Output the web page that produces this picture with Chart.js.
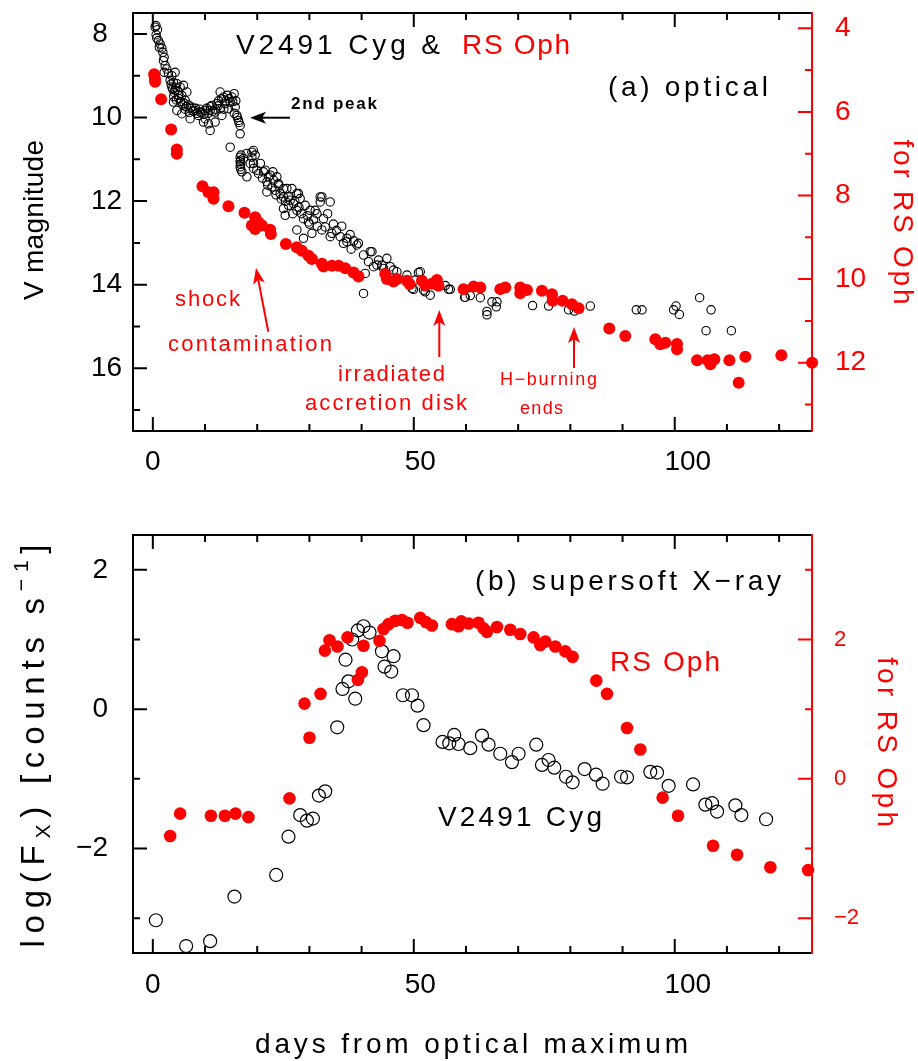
<!DOCTYPE html>
<html>
<head>
<meta charset="utf-8">
<title>V2491 Cyg & RS Oph</title>
<script src="https://cdn.jsdelivr.net/npm/chart.js@4.4.1/dist/chart.umd.min.js"></script>
<style>
    html, body { margin: 0; padding: 0; background: #fff; }
    #page { position: relative; width: 918px; height: 1061px; }
    #page canvas { position: absolute; left: 0; }
</style>
</head>
<body>
<div id="page">
    <canvas id="opticalChart" width="918" height="490" style="top:0"></canvas>
    <canvas id="xrayChart" width="918" height="571" style="top:490px"></canvas>
</div>
<script>
// axis ticks
const dayLabels = [0, 50, 100];
const dayTicks = [0, 10, 20, 30, 40, 50, 60, 70, 80, 90, 100, 110, 120];
const vmagLabels = [8, 10, 12, 14, 16];
const vmagTicks = [8, 9, 10, 11, 12, 13, 14, 15, 16, 17];
const rsMagLabels = [4, 6, 8, 10, 12];
const rsMagTicks = [4, 5, 6, 7, 8, 9, 10, 11, 12, 13];
const fxLabels = [-2, 0, 2];
const fxTicks = [-3, -2, -1, 0, 1, 2];
const rsFxLabels = [-2, 0, 2];
const rsFxTicks = [-2, -1, 0, 1, 2, 3];

// (a) optical, V2491 Cyg: [days, V mag]
const cygOptical = [
    [0.44, 7.84], [0.60, 7.80], [0.88, 7.90], [0.63, 8.02], [0.75, 8.10], [1.07, 8.16], [1.40, 8.24], [1.25, 8.32],
    [1.73, 8.34], [1.92, 8.44], [2.17, 8.56], [2.03, 8.64], [2.36, 8.76], [2.68, 8.84], [2.17, 8.92], [2.99, 8.95],
    [3.64, 9.00], [4.27, 8.92], [3.32, 9.11], [3.95, 9.16], [4.60, 9.19], [3.64, 9.27], [4.27, 9.35], [5.23, 9.27],
    [5.87, 9.23], [4.91, 9.47], [5.56, 9.47], [3.95, 9.63], [6.19, 9.59], [6.52, 9.39], [4.60, 9.83], [5.56, 9.91],
    [7.15, 10.03], [7.15, 9.79], [3.50, 9.20], [3.80, 9.32], [4.10, 9.40], [4.40, 9.28], [4.80, 9.36], [5.00, 9.55],
    [5.30, 9.62], [5.70, 9.70], [6.00, 9.66], [6.40, 9.74], [6.80, 9.70], [7.40, 9.75], [7.80, 9.85], [8.20, 9.78],
    [8.50, 9.90], [9.00, 9.80], [9.40, 9.88], [9.80, 9.92], [10.30, 9.78], [10.60, 9.90], [11.00, 9.74], [11.50, 9.85],
    [12.00, 9.80], [12.50, 9.72], [4.00, 9.50], [4.50, 9.58], [6.20, 9.80], [7.00, 9.88],
    [8.11, 9.83], [9.07, 9.87], [10.02, 9.83], [10.98, 9.83], [11.94, 9.87], [11.31, 9.71], [12.27, 9.67], [12.90, 9.79],
    [8.74, 9.95], [10.02, 10.03], [9.70, 10.11], [10.66, 10.15], [10.98, 10.31], [11.94, 10.11],
    [12.90, 9.39], [13.53, 9.51], [14.30, 9.47], [15.14, 9.51], [15.58, 9.43], [14.82, 9.63], [13.86, 9.67], [13.23, 9.95],
    [14.49, 9.79], [15.78, 9.75], [16.10, 9.95], [16.41, 10.07], [15.60, 9.90], [16.73, 10.19], [16.73, 10.39],
    [13.20, 9.55], [14.00, 9.60], [14.60, 9.55], [15.30, 9.62], [15.90, 9.60], [13.60, 9.80], [12.60, 9.60],
    [16.20, 10.00], [16.50, 10.12],
    [14.82, 10.71], [16.73, 10.95], [16.73, 11.06], [16.73, 11.18], [17.06, 11.30], [16.80, 11.02], [16.80, 11.12],
    [16.85, 11.24], [16.90, 10.90], [17.37, 10.98], [18.02, 10.86], [18.98, 10.83], [19.61, 10.90], [18.65, 11.10],
    [19.28, 11.22], [18.02, 11.42], [20.24, 11.34], [21.53, 11.26], [22.16, 11.42], [21.85, 11.54], [23.12, 11.50],
    [24.07, 11.62], [25.03, 11.70], [26.64, 11.70], [27.60, 11.82], [25.99, 11.90], [28.23, 11.94],
    [19.28, 10.79], [18.98, 10.95], [19.28, 11.10], [19.93, 11.26], [21.20, 11.30], [22.48, 11.38], [23.77, 11.42],
    [21.85, 11.78], [22.81, 11.66], [23.44, 11.74], [24.07, 11.58], [24.40, 11.82], [25.03, 11.90], [25.69, 11.70],
    [26.32, 11.98], [25.03, 12.18], [25.36, 12.34], [26.95, 12.06], [27.91, 11.82], [27.60, 12.22], [28.87, 12.42],
    [30.15, 12.22], [31.11, 12.22], [32.07, 11.90], [32.07, 12.02], [33.98, 12.02], [32.70, 12.42], [29.83, 12.50],
    [27.60, 12.69], [28.87, 12.89], [30.48, 12.77], [32.39, 12.69], [33.03, 12.62], [33.98, 12.85], [34.31, 12.77],
    [35.90, 12.85], [37.19, 12.89], [36.53, 13.01], [39.10, 13.05], [40.37, 13.29], [41.98, 13.21], [41.33, 13.45],
    [42.29, 13.57], [43.24, 13.41], [43.90, 13.53], [44.85, 13.37], [44.20, 13.61], [46.12, 13.65], [40.69, 13.73],
    [40.37, 14.21], [50.91, 13.71], [48.99, 13.93], [49.95, 14.11], [51.87, 14.13], [53.15, 14.25], [56.66, 14.11],
    [20.60, 11.10], [21.00, 11.45], [22.00, 11.62], [23.00, 11.30], [23.60, 11.85], [24.60, 11.95], [25.40, 12.00],
    [26.00, 12.10], [26.80, 12.30], [27.20, 12.00], [28.00, 12.15], [28.50, 12.30], [29.20, 12.10], [29.60, 12.35],
    [30.00, 12.55], [30.80, 12.45], [31.50, 12.60], [33.50, 12.30], [34.60, 12.55], [35.20, 12.70], [36.20, 12.60],
    [37.80, 12.80], [38.50, 12.95], [38.00, 13.15],
    [31.44, 12.30], [32.39, 11.90], [37.19, 12.97], [39.41, 13.01], [41.65, 13.21], [42.94, 13.53], [45.49, 13.57],
    [46.77, 13.69], [48.69, 13.77], [50.28, 13.89], [51.24, 13.69], [49.65, 14.09], [52.20, 14.05], [59.73, 14.30],
    [52.19, 14.17], [56.03, 14.02], [56.99, 14.11], [59.86, 14.30], [60.82, 14.26], [62.74, 14.31], [64.02, 14.64],
    [64.02, 14.72], [64.98, 14.41], [65.94, 14.41], [65.80, 14.53], [72.76, 14.50], [75.83, 14.51], [79.66, 14.60],
    [80.76, 14.63], [83.82, 14.51], [92.64, 14.60], [93.73, 14.60], [99.79, 14.60], [100.25, 14.51], [100.88, 14.71],
    [104.77, 14.31], [106.96, 14.60], [106.00, 15.10], [110.85, 15.10]
];

// (a) optical, RS Oph: [days, V mag] on the right axis
const rsOptical = [
    [0.25, 5.10], [0.40, 5.20], [0.44, 5.28], [1.59, 5.70], [3.51, 6.42], [4.60, 6.90], [4.60, 7.00], [9.51, 7.78],
    [10.66, 7.92], [11.62, 7.92], [11.62, 8.08], [14.49, 8.26], [17.56, 8.41], [19.61, 8.52], [18.98, 8.72],
    [20.24, 8.64], [19.61, 8.80], [20.89, 8.72], [22.48, 8.82], [22.62, 8.92], [25.49, 9.16], [27.60, 9.24],
    [28.56, 9.32], [29.83, 9.44], [30.48, 9.52], [32.39, 9.63], [32.70, 9.70], [34.31, 9.68], [35.58, 9.68],
    [36.86, 9.74], [38.45, 9.84], [39.41, 9.94], [44.53, 9.88], [44.85, 10.00], [46.12, 10.06], [46.77, 10.00],
    [48.69, 10.04], [49.19, 10.12], [51.56, 10.04], [52.20, 10.14], [53.48, 10.11], [54.44, 10.02], [54.74, 10.16],
    [59.54, 10.24], [61.45, 10.18], [62.74, 10.20], [66.57, 10.24], [67.53, 10.20], [70.40, 10.20], [70.40, 10.34],
    [71.69, 10.26], [74.56, 10.28], [76.48, 10.36], [76.60, 10.52], [78.51, 10.52], [80.31, 10.60], [81.58, 10.70],
    [87.46, 11.18], [90.53, 11.36], [96.28, 11.44], [97.24, 11.56], [98.20, 11.52], [100.44, 11.55], [100.44, 11.68],
    [104.27, 11.94], [106.31, 11.94], [106.83, 12.04], [107.59, 11.92], [110.47, 11.94], [112.25, 12.48],
    [113.53, 11.86], [120.43, 11.82], [126.32, 12.00]
];

// (b) supersoft X-ray, V2491 Cyg: [days, log Fx]
const cygXray = [
    [0.58, -3.03], [6.38, -3.40], [10.98, -3.33], [15.64, -2.69], [23.63, -2.38], [25.99, -1.83], [28.23, -1.52],
    [29.52, -1.60], [30.67, -1.57], [31.82, -1.24], [33.03, -1.18], [35.33, -0.26], [36.34, 0.29], [37.49, 0.40],
    [38.78, 0.15], [36.92, 0.71], [38.20, 1.00], [39.29, 1.13], [40.37, 1.19], [41.52, 1.10], [43.90, 0.83],
    [46.12, 0.76], [44.39, 0.61], [45.68, 0.54], [47.92, 0.20], [49.65, 0.20], [50.72, 0.05], [51.87, -0.23],
    [55.51, -0.47], [56.80, -0.49], [57.75, -0.37], [58.58, -0.50], [60.82, -0.56], [63.06, -0.38], [64.33, -0.51],
    [66.57, -0.64], [68.81, -0.76], [70.08, -0.64], [73.47, -0.51], [74.56, -0.80], [75.83, -0.73], [76.92, -0.84],
    [79.16, -0.97], [80.43, -1.05], [82.73, -0.86], [84.91, -0.94], [86.18, -1.07], [89.71, -0.97], [90.86, -0.98],
    [95.32, -0.90], [96.61, -0.91], [98.83, -1.10], [103.51, -1.08], [105.87, -1.37], [107.15, -1.35], [108.11, -1.47],
    [111.62, -1.38], [112.77, -1.52], [117.50, -1.58]
];

// (b) supersoft X-ray, RS Oph: [days, log Fx] on the right axis
const rsXray = [
    [3.32, -0.82], [5.23, -0.50], [11.12, -0.53], [13.80, -0.53], [15.83, -0.50], [18.32, -0.55], [26.18, -0.28],
    [29.06, 1.08], [30.02, 0.59], [32.13, 1.22], [32.97, 1.84], [33.85, 1.99], [35.38, 1.90], [37.30, 2.03],
    [39.29, 1.42], [40.06, 1.53], [40.37, 1.91], [43.43, 1.98], [44.20, 2.15], [45.16, 2.22], [46.44, 2.27],
    [47.73, 2.28], [48.80, 2.24], [51.24, 2.31], [52.33, 2.25], [53.48, 2.20], [57.31, 2.22], [58.58, 2.19],
    [59.10, 2.26], [60.50, 2.23], [62.41, 2.24], [63.37, 2.16], [64.02, 2.11], [65.94, 2.18], [68.49, 2.14],
    [70.40, 2.08], [72.95, 2.03], [74.24, 1.92], [75.20, 1.97], [77.11, 1.90], [79.03, 1.83], [80.43, 1.75],
    [84.97, 1.41], [87.02, 1.22], [90.86, 0.73], [93.41, 0.42], [97.68, -0.27], [100.63, -0.53], [107.34, -0.96],
    [111.94, -1.09], [118.32, -1.27], [125.55, -1.31]
];

const RED = '#ff0000';
const FONT = '"Liberation Sans", Arial, sans-serif';
const toPoints = rows => rows.map(r => ({ x: r[0], y: r[1] }));
const fmt = v => (v < 0 ? '\u2212' + Math.abs(v) : String(v));

// text drawn stretched to a given width (the original uses wide letter spacing)
function drawText(ctx, t) {
    ctx.save();
    ctx.translate(t.x, t.y);
    if (t.rot) ctx.rotate(t.rot);
    ctx.fillStyle = t.color || '#000';
    ctx.textBaseline = 'middle';
    ctx.textAlign = 'left';
    const parts = t.parts || [{ text: t.text }];
    let natural = 0, count = 0;
    parts.forEach(p => {
        ctx.font = `${t.weight || 'normal'} ${Math.round(t.size * (p.scale || 1))}px ${FONT}`;
        natural += ctx.measureText(p.text).width;
        count += p.text.length;
    });
    const ls = t.width ? (t.width - natural) / Math.max(1, count - 1) : 0;
    let x = t.align === 'center' ? -(t.width || natural) / 2 : 0;
    parts.forEach(p => {
        ctx.font = `${t.weight || 'normal'} ${Math.round(t.size * (p.scale || 1))}px ${FONT}`;
        ctx.letterSpacing = ls + 'px';
        ctx.fillText(p.text, x, (p.dy || 0));
        x += ctx.measureText(p.text).width;
    });
    ctx.restore();
}

function drawArrow(ctx, a) {
    const ang = Math.atan2(a.y2 - a.y1, a.x2 - a.x1);
    ctx.save();
    ctx.strokeStyle = a.color;
    ctx.fillStyle = a.color;
    ctx.lineWidth = 2;
    ctx.beginPath();
    ctx.moveTo(a.x1, a.y1);
    ctx.lineTo(a.x2 - 10 * Math.cos(ang), a.y2 - 10 * Math.sin(ang));
    ctx.stroke();
    ctx.translate(a.x2, a.y2);
    ctx.rotate(ang);
    ctx.beginPath();
    ctx.moveTo(0, 0);
    ctx.lineTo(-16, -6);
    ctx.lineTo(-12, 0);
    ctx.lineTo(-16, 6);
    ctx.closePath();
    ctx.fill();
    ctx.restore();
}

// frame, inward ticks, tick labels and annotations of one panel
function panelPlugin(cfg) {
    return {
        id: 'panel',
        beforeDatasetsDraw(chart) {
            const { ctx, chartArea: a, scales } = chart;
            ctx.save();
            ctx.lineWidth = 2;
            ctx.strokeStyle = '#000';
            ctx.beginPath();
            ctx.moveTo(a.right, a.top);
            ctx.lineTo(a.left, a.top);
            ctx.lineTo(a.left, a.bottom);
            ctx.lineTo(a.right, a.bottom);
            dayTicks.forEach(v => {
                const px = scales.x.getPixelForValue(v);
                const len = dayLabels.includes(v) ? 14 : 7;
                ctx.moveTo(px, a.top); ctx.lineTo(px, a.top + len);
                ctx.moveTo(px, a.bottom); ctx.lineTo(px, a.bottom - len);
            });
            cfg.leftTicks.forEach(v => {
                const py = scales.y.getPixelForValue(v);
                const len = cfg.leftLabels.includes(v) ? 14 : 7;
                ctx.moveTo(a.left, py); ctx.lineTo(a.left + len, py);
            });
            ctx.stroke();
            ctx.strokeStyle = RED;
            ctx.beginPath();
            ctx.moveTo(a.right, a.top - 1);
            ctx.lineTo(a.right, a.bottom + 1);
            cfg.rightTicks.forEach(v => {
                const py = scales.y2.getPixelForValue(v);
                const len = cfg.rightLabels.includes(v) ? 14 : 7;
                ctx.moveTo(a.right, py); ctx.lineTo(a.right - len, py);
            });
            ctx.stroke();

            ctx.textBaseline = 'middle';
            ctx.font = `28px ${FONT}`;
            ctx.fillStyle = '#000';
            ctx.textAlign = 'center';
            dayLabels.forEach(v => {
                const s = fmt(v);
                ctx.fillText(s, scales.x.getPixelForValue(v) + (s.length - 1) * 6.5, cfg.dayLabelY);
            });
            cfg.leftLabels.forEach(v => {
                const s = fmt(v);
                const py = scales.y.getPixelForValue(v);
                if (cfg.leftAlign === 'right') {
                    ctx.textAlign = 'right';
                    ctx.fillText(s, cfg.leftX, py);
                } else {
                    ctx.textAlign = 'center';
                    ctx.fillText(s, cfg.leftX + (s.length - 1) * 6.5, py);
                }
            });
            ctx.fillStyle = RED;
            ctx.textAlign = 'left';
            ctx.font = `${cfg.rightSize}px ${FONT}`;
            cfg.rightLabels.forEach(v => {
                ctx.fillText(fmt(v), cfg.rightX, scales.y2.getPixelForValue(v));
            });
            ctx.restore();
        },
        afterDatasetsDraw(chart) {
            const ctx = chart.ctx;
            cfg.texts.forEach(t => drawText(ctx, t));
            cfg.arrows.forEach(a => drawArrow(ctx, a));
        }
    };
}

function baseOptions(padding, yRange, y2Range) {
    return {
        responsive: false,
        animation: false,
        events: [],
        layout: { padding: padding },
        plugins: { legend: { display: false }, tooltip: { enabled: false } },
        scales: {
            x: { type: 'linear', display: false, min: -3.8, max: 126.3 },
            y: { type: 'linear', display: false, reverse: yRange.reverse, min: yRange.min, max: yRange.max },
            y2: { type: 'linear', display: false, position: 'right', reverse: y2Range.reverse, min: y2Range.min, max: y2Range.max }
        }
    };
}

// (a) optical
new Chart(document.getElementById('opticalChart'), {
    type: 'scatter',
    data: {
        datasets: [{
            label: 'V2491 Cyg',
            data: toPoints(cygOptical),
            yAxisID: 'y',
            pointRadius: 4.2,
            pointBorderWidth: 1.1,
            pointBorderColor: '#000',
            pointBackgroundColor: 'rgba(0,0,0,0)',
            clip: false,
            order: 1
        }, {
            label: 'RS Oph',
            data: toPoints(rsOptical),
            yAxisID: 'y2',
            pointRadius: 6,
            pointBorderWidth: 0,
            pointBackgroundColor: RED,
            clip: false,
            order: 0
        }]
    },
    options: baseOptions({ left: 133, right: 106, top: 13, bottom: 59 },
        { min: 7.5, max: 17.5, reverse: true },
        { min: 3.634, max: 13.634, reverse: true }),
    plugins: [panelPlugin({
        leftTicks: vmagTicks, leftLabels: vmagLabels, leftX: 100, leftAlign: 'center',
        rightTicks: rsMagTicks, rightLabels: rsMagLabels, rightX: 835, rightSize: 28,
        dayLabelY: 462,
        texts: [
            { text: 'V2491 Cyg &', x: 236, y: 46, size: 28, width: 204 },
            { text: 'RS Oph', x: 462, y: 46, size: 28, width: 108, color: RED },
            { text: '(a) optical', x: 608, y: 88, size: 28, width: 160 },
            { text: '2nd peak', x: 291, y: 104, size: 17, width: 86, weight: 'bold' },
            { text: 'shock', x: 175, y: 300, size: 22, width: 65, color: RED },
            { text: 'contamination', x: 168, y: 345, size: 22, width: 164, color: RED },
            { text: 'irradiated', x: 338, y: 375, size: 22, width: 107, color: RED },
            { text: 'accretion disk', x: 305, y: 404, size: 22, width: 162, color: RED },
            { text: 'H\u2212burning', x: 500, y: 380, size: 18, width: 97, color: RED },
            { text: 'ends', x: 520, y: 409, size: 18, width: 43, color: RED },
            { text: 'V magnitude', x: 35, y: 220, size: 28, width: 160, rot: -Math.PI / 2, align: 'center' },
            { text: 'for RS Oph', x: 902, y: 222, size: 28, width: 165, rot: Math.PI / 2, align: 'center', color: RED }
        ],
        arrows: [
            { x1: 290, y1: 117.7, x2: 250, y2: 117.7, color: '#000' },
            { x1: 268.3, y1: 331.7, x2: 256, y2: 268, color: RED },
            { x1: 439.3, y1: 357, x2: 439.3, y2: 310, color: RED },
            { x1: 574, y1: 368, x2: 574, y2: 327, color: RED }
        ]
    })]
});

// (b) supersoft X-ray
new Chart(document.getElementById('xrayChart'), {
    type: 'scatter',
    data: {
        datasets: [{
            label: 'V2491 Cyg',
            data: toPoints(cygXray),
            yAxisID: 'y',
            pointRadius: 6.5,
            pointBorderWidth: 1.2,
            pointBorderColor: '#000',
            pointBackgroundColor: 'rgba(0,0,0,0)',
            clip: false,
            order: 1
        }, {
            label: 'RS Oph',
            data: toPoints(rsXray),
            yAxisID: 'y2',
            pointRadius: 6.3,
            pointBorderWidth: 0,
            pointBackgroundColor: RED,
            clip: false,
            order: 0
        }]
    },
    options: baseOptions({ left: 133, right: 106, top: 45, bottom: 108 },
        { min: -3.5, max: 2.5, reverse: false },
        { min: -2.5, max: 3.5, reverse: false }),
    plugins: [panelPlugin({
        leftTicks: fxTicks, leftLabels: fxLabels, leftX: 108, leftAlign: 'right',
        rightTicks: rsFxTicks, rightLabels: rsFxLabels, rightX: 834, rightSize: 22,
        dayLabelY: 495,
        texts: [
            { text: '(b) supersoft X\u2212ray', x: 475, y: 92, size: 28, width: 306 },
            { text: 'RS Oph', x: 610, y: 173, size: 28, width: 110, color: RED },
            { text: 'V2491 Cyg', x: 438, y: 328, size: 28, width: 164 },
            { text: 'days from optical maximum', x: 471.5, y: 555, size: 28, width: 433, align: 'center' },
            {
                parts: [
                    { text: 'log(F' },
                    { text: 'X', scale: 0.65, dy: 9 },
                    { text: ') [counts s' },
                    { text: '\u22121', scale: 0.65, dy: -13 },
                    { text: ']' }
                ],
                x: 35, y: 256, size: 33, width: 403, rot: -Math.PI / 2, align: 'center'
            },
            { text: 'for RS Oph', x: 886, y: 252, size: 28, width: 170, rot: Math.PI / 2, align: 'center', color: RED }
        ],
        arrows: []
    })]
});
</script>
</body>
</html>
